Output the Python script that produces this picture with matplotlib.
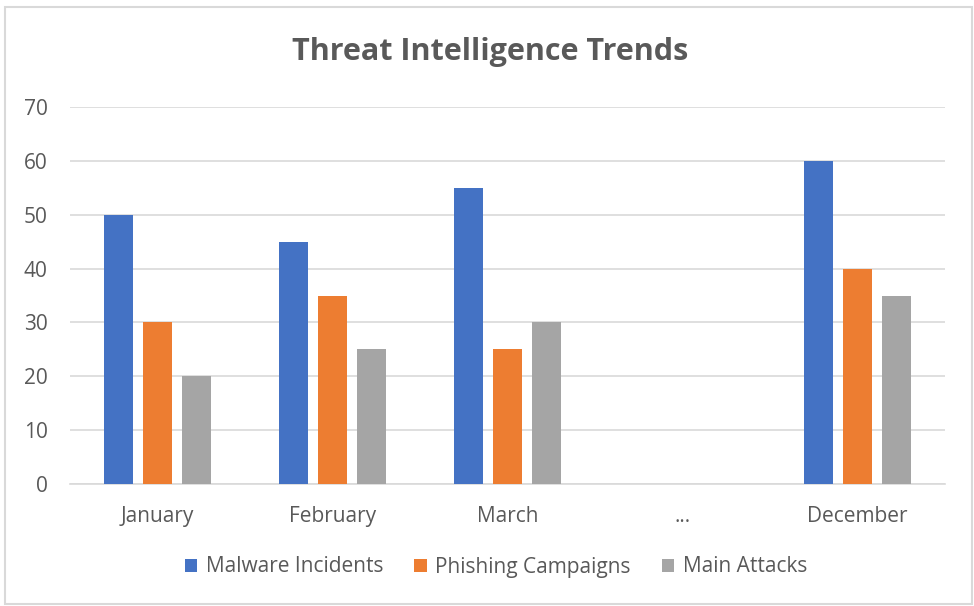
import matplotlib
matplotlib.use("Agg")
import matplotlib.pyplot as plt
import numpy as np
from matplotlib.patches import Rectangle

categories = ["January", "February", "March", "...", "December"]
malware = [50, 45, 55, np.nan, 60]
phishing = [30, 35, 25, np.nan, 40]
main_attacks = [20, 25, 30, np.nan, 35]
series_names = ["Malware Incidents", "Phishing Campaigns", "Main Attacks"]
colors = ["#4472C4", "#ED7D31", "#A5A5A5"]
yticks = [0, 10, 20, 30, 40, 50, 60, 70]

plt.rcParams['font.family'] = ['Open Sans', 'DejaVu Sans']
txt = "#595959"

W, H = 974, 606
fig = plt.figure(figsize=(W/100, H/100), dpi=100)
fig.patches.append(Rectangle((5/W, 2/H), 967/W, 597/H, transform=fig.transFigure,
                             fill=False, edgecolor="#d9d9d9", linewidth=1.5))
ax = fig.add_axes([70/W, 122/H, 875/W, 377/H])

x = np.arange(len(categories))
width = 0.171
offs = [-0.223, 0, 0.223]
for data, off, c, name in zip([malware, phishing, main_attacks], offs, colors, series_names):
    ax.bar(x + off, data, width, color=c, label=name, zorder=3)

ax.set_xlim(-0.5, len(categories) - 0.5)
ax.set_ylim(0, 70)
ax.set_yticks(yticks)
ax.set_xticks(x)
ax.set_xticklabels(categories)
ax.grid(axis='y', color="#d9d9d9", linewidth=1.2, zorder=0)
for s in ["top", "right", "left"]:
    ax.spines[s].set_visible(False)
ax.spines["bottom"].set_color("#d9d9d9")
ax.spines["bottom"].set_linewidth(1.2)
ax.tick_params(axis='both', length=0, labelsize=15, colors=txt)
ax.tick_params(axis='y', pad=16)
ax.tick_params(axis='x', pad=16)

fig.text(0.5 + 3/W, 1 - 52/H, "Threat Intelligence Trends", ha='center', va='center',
         fontsize=22, fontweight='bold', color=txt)

leg = fig.legend(loc='center', bbox_to_anchor=(0.5 + 9/W, 1 - 567/H), ncol=3, frameon=False,
                 fontsize=15, handlelength=0.6, handleheight=0.6, handletextpad=0.4,
                 columnspacing=1.5)
for t in leg.get_texts():
    t.set_color(txt)

fig.savefig("out.png", dpi=100)
